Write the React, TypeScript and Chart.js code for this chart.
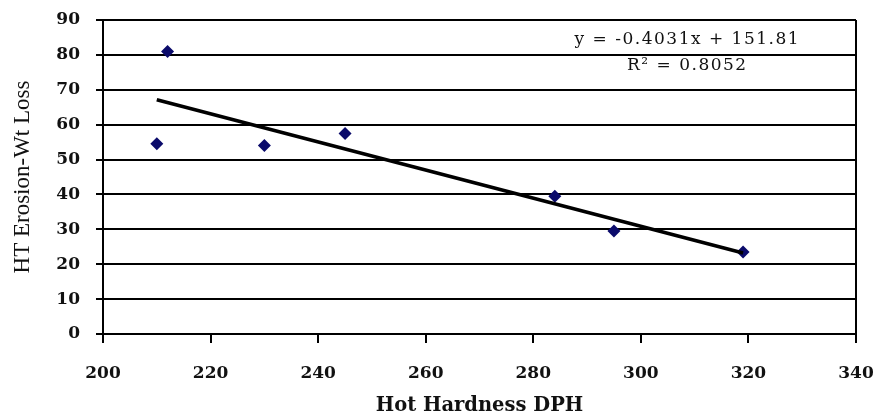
import React, { useEffect, useRef } from "react";
import { Chart, registerables } from "chart.js";

Chart.register(...registerables);

// Data
const hardness = [210, 212, 230, 245, 284, 295, 319];
const erosionLoss = [54.5, 81, 54, 57.5, 39.5, 29.5, 23.5];
const trendSlope = -0.4031;
const trendIntercept = 151.81;
const equationLines = ["y = -0.4031x + 151.81", "R\u00B2 = 0.8052"];
const xTitle = "Hot Hardness DPH";
const yTitle = "HT Erosion-Wt Loss";

const annotationPlugin = {
  id: "eqnText",
  afterDatasetsDraw(chart: any) {
    const { ctx, chartArea } = chart;
    ctx.save();
    ctx.fillStyle = "#111";
    ctx.font = "17px 'DejaVu Serif'";
    ctx.textAlign = "center";
    ctx.textBaseline = "middle";
    try {
      (ctx as any).letterSpacing = "1.5px";
    } catch (e) {}
    const cx = chartArea.left + (chartArea.right - chartArea.left) * 0.776;
    ctx.fillText(equationLines[0], cx, chartArea.top + 20);
    ctx.fillText(equationLines[1], cx, chartArea.top + 46);
    ctx.restore();
  },
};

export default function App() {
  const ref = useRef<HTMLCanvasElement>(null);
  useEffect(() => {
    document.body.style.margin = "0";
    const xs = [Math.min(...hardness), Math.max(...hardness)];
    const trend = xs.map((x) => ({ x, y: trendSlope * x + trendIntercept }));
    const chart = new Chart(ref.current!, {
      type: "scatter",
      data: {
        datasets: [
          {
            type: "line",
            data: trend,
            borderColor: "#000",
            borderWidth: 3.5,
            pointRadius: 0,
            fill: false,
          } as any,
          {
            data: hardness.map((x, i) => ({ x, y: erosionLoss[i] })),
            backgroundColor: "#0b0b6b",
            borderColor: "#0b0b6b",
            pointStyle: "rectRot",
            pointRadius: 6.5,
            borderWidth: 0,
          },
        ],
      },
      options: {
        animation: false,
        responsive: false,
        layout: { padding: { top: 20, right: 22, left: 0, bottom: 0 } },
        plugins: { legend: { display: false }, tooltip: { enabled: false } },
        scales: {
          x: {
            type: "linear",
            min: 200,
            max: 340,
            afterFit: (s: any) => {
              s.height = 86;
              s.paddingLeft = 0;
              s.paddingRight = 0;
            },
            ticks: {
              stepSize: 20,
              color: "#111",
              padding: 20,
              font: { family: "'DejaVu Serif'", size: 17, weight: "bold" },
            },
            grid: {
              color: (c: any) =>
                c.tick && (c.tick.value === 200 || c.tick.value === 340) ? "#000" : "rgba(0,0,0,0)",
              tickColor: "#000",
              tickLength: 9,
              lineWidth: 2,
            },
            border: { color: "#000", width: 2 },
            title: {
              display: true,
              text: xTitle,
              color: "#111",
              padding: { top: 0, bottom: 2 },
              font: { family: "'DejaVu Serif'", size: 19.5, weight: "bold" },
            },
          },
          y: {
            min: 0,
            max: 90,
            afterFit: (s: any) => {
              s.width = 103;
              s.paddingTop = 0;
              s.paddingBottom = 0;
            },
            ticks: {
              stepSize: 10,
              color: "#111",
              padding: 16,
              font: { family: "'DejaVu Serif'", size: 17, weight: "bold" },
            },
            grid: { color: "#000", lineWidth: 2, tickLength: 7 },
            border: { color: "#000", width: 2 },
            title: {
              display: true,
              text: yTitle,
              color: "#111",
              padding: { top: 9, bottom: 0 },
              font: { family: "'Liberation Serif'", size: 23, weight: "normal" },
            },
          },
        },
      },
      plugins: [annotationPlugin],
    });
    return () => chart.destroy();
  }, []);
  return (
    <div style={{ position: "absolute", left: 0, top: 0, width: 878, height: 420, background: "#fff" }}>
      <canvas ref={ref} width={878} height={420} />
    </div>
  );
}
